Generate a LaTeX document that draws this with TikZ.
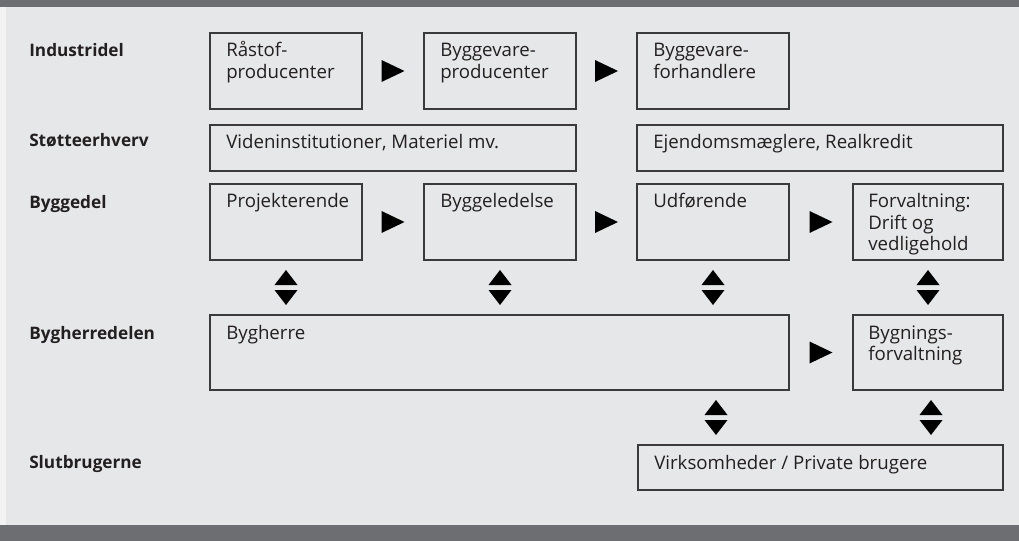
\documentclass[tikz,border=0pt]{standalone}
\usepackage{fontspec}
\setmainfont{Open Sans}
\usetikzlibrary{calc}
\definecolor{bgc}{HTML}{E6E7E8}
\definecolor{barc}{HTML}{6D6E71}
\definecolor{edgec}{HTML}{3A3A3C}
\definecolor{txtc}{HTML}{231F20}
\newcommand{\mkbox}[5]{%
  \node[boxs, minimum width={(#4-#2)*0.75pt}, minimum height={(#5-#3)*0.75pt}] (#1) at ({(#2+#4)/2},{(#3+#5)/2}) {};}
\newcommand{\boxtext}[3]{%
  \node[btext] (#1t) at ($(#1.north west)+(#2,24)$) {\parbox[t]{12cm}{\raggedright #3}};}
\newcommand{\rarr}[3]{%
  \fill[arrc] ($(#2.east)!0.5!(#3.west)$) coordinate (#1) ++(-11.5,11) -- ++(23,-11) -- ++(-23,-11) -- cycle;}
\newcommand{\darr}[2]{%
  \fill[arrc] (#2) coordinate (#1) ++(-11.5,-2.5) -- ++(23,0) -- ++(-11.5,-15) -- cycle;
  \fill[arrc] (#2) ++(-11.5,2.5) -- ++(23,0) -- ++(-11.5,15) -- cycle;}
\begin{document}
\begin{tikzpicture}[x=0.75pt,y=-0.75pt,
  boxs/.style={draw=edgec, line width=0.9pt, inner sep=0pt, outer sep=0pt, rectangle},
  btext/.style={anchor=base west, inner sep=0pt, text=txtc, font=\fontsize{14pt}{16.1pt}\selectfont},
  lbl/.style={anchor=base west, inner sep=0pt, text=txtc, font=\fontsize{12.9pt}{16pt}\selectfont\bfseries},
  arrc/.style={fill=black}]
\useasboundingbox (0,0) rectangle (1019,541);
\fill[bgc] (0,0) rectangle (1019,541);
\fill[white!50!bgc] (0,7) rectangle (6,525);
\fill[barc] (0,0) rectangle (1019,7);
\fill[barc] (0,525) rectangle (1019,541);
% labels
\node[lbl] (l1) at (29,57) {Industridel};
\node[lbl] (l2) at (29,147) {Støtteerhverv};
\node[lbl] (l3) at (29,209) {Byggedel};
\node[lbl] (l4) at (29,339) {Bygherredelen};
\node[lbl] (l5) at (29,468) {Slutbrugerne};
% boxes
\mkbox{r1}{210}{33}{362}{109}
\mkbox{r2}{424}{33}{576}{109}
\mkbox{r3}{637}{33}{789}{109}
\mkbox{s1}{210}{125}{576}{171}
\mkbox{s2}{637}{125}{1003}{171}
\mkbox{b1}{210}{184}{362}{260}
\mkbox{b2}{424}{184}{576}{260}
\mkbox{b3}{637}{184}{789}{260}
\mkbox{b4}{853}{184}{1003}{260}
\mkbox{h1}{210}{315}{789}{390}
\mkbox{h2}{853}{315}{1003}{390}
\mkbox{v1}{638}{445}{1003}{490}
\boxtext{r1}{16}{Råstof-\\producenter}
\boxtext{r2}{16}{Byggevare-\\producenter}
\boxtext{r3}{16}{Byggevare-\\forhandlere}
\boxtext{s1}{16}{Videninstitutioner, Materiel mv.}
\boxtext{s2}{16}{Ejendomsmæglere, Realkredit}
\boxtext{b1}{16}{Projekterende}
\boxtext{b2}{16}{Byggeledelse}
\boxtext{b3}{16}{Udførende}
\boxtext{b4}{15}{Forvaltning:\\Drift og\\vedligehold}
\boxtext{h1}{16}{Bygherre}
\boxtext{h2}{15}{Bygnings-\\forvaltning}
\boxtext{v1}{16}{Virksomheder / Private brugere}
% right arrows
\rarr{a1}{r1}{r2}
\rarr{a2}{r2}{r3}
\rarr{a3}{b1}{b2}
\rarr{a4}{b2}{b3}
\rarr{a5}{b3}{b4}
\rarr{a6}{h1}{h2}
% double arrows
\darr{d1}{$(b1.south)!0.5!(b1.south |- h1.north)$}
\darr{d2}{$(b2.south)!0.5!(b2.south |- h1.north)$}
\darr{d3}{$(b3.south)!0.5!(b3.south |- h1.north)$}
\darr{d4}{$(b4.south)!0.5!(h2.north)$}
\darr{d5}{$([xshift=2.25pt]b3.south |- h1.south)!0.5!([xshift=2.25pt]b3.south |- v1.north)$}
\darr{d6}{$([xshift=2.25pt]h2.south)!0.5!([xshift=2.25pt]h2.south |- v1.north)$}
\end{tikzpicture}
\end{document}
